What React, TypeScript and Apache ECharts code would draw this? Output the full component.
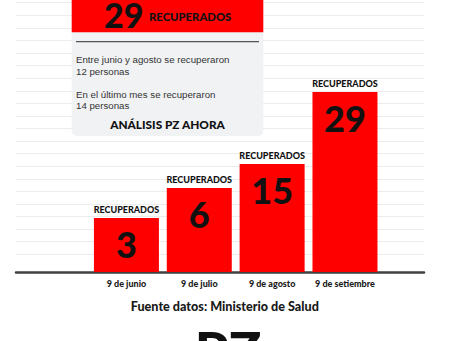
import React, { useEffect, useRef } from "react";
import * as echarts from "echarts";

const fechas = ["9 de junio", "9 de julio", "9 de agosto", "9 de setiembre"];
const recuperados = [3, 6, 15, 29];
// drawn (visual) bar heights as read from the infographic, not proportional to the values
const alturaBarra = [54, 84, 108, 180];
const etiquetaBarra = "RECUPERADOS";
const totalRecuperados = 29;
const notas = [
  "Entre junio y agosto se recuperaron",
  "12 personas",
  "En el último mes se recuperaron",
  "14 personas",
];
const firma = "ANÁLISIS PZ AHORA";
const fuente = "Fuente datos: Ministerio de Salud";
const logo = "PZ";
const lineasFondo = 20;

const HEAVY = "Lato, 'Open Sans', sans-serif";
const RED = "#fe0000";

export default function App() {
  const ref = useRef<HTMLDivElement>(null);
  useEffect(() => {
    if (!ref.current) return;
    const chart = echarts.init(ref.current, null, { renderer: "svg" });
    const notaY = [59.3, 71, 94, 105.5];
    chart.setOption({
      animation: false,
      backgroundColor: "#ffffff",
      grid: [
        { left: 16, right: 30, top: 2.7, bottom: 86.7 },
        { left: 90, right: 72.6, top: 92, bottom: 69 },
      ],
      xAxis: [
        {
          gridIndex: 0,
          type: "value",
          min: 0,
          max: 1,
          offset: 17.7,
          axisLine: { show: true, onZero: false, lineStyle: { color: "#404040", width: 2.5 } },
          axisTick: { show: false },
          axisLabel: { show: false },
          splitLine: { show: false },
        },
        {
          gridIndex: 1,
          type: "category",
          data: fechas,
          axisLine: { show: false },
          axisTick: { show: false },
          axisLabel: {
            interval: 0,
            hideOverlap: false,
            margin: 7,
            fontSize: 9,
            fontWeight: 900,
            color: "#1a1a1a",
            fontFamily: HEAVY,
          },
        },
      ],
      yAxis: [
        {
          gridIndex: 0,
          type: "value",
          min: 0,
          max: lineasFondo,
          interval: 1,
          axisLine: { show: false },
          axisTick: { show: false },
          axisLabel: { show: false },
          splitLine: { show: true, lineStyle: { color: "#ececec", width: 1 } },
        },
        {
          gridIndex: 1,
          type: "value",
          min: 0,
          max: 180,
          show: false,
          splitLine: { show: false },
        },
      ],
      series: [
        {
          type: "bar",
          xAxisIndex: 1,
          yAxisIndex: 1,
          data: alturaBarra,
          barWidth: 65,
          barGap: "-100%",
          itemStyle: { color: RED },
          label: {
            show: true,
            position: "insideTop",
            distance: 7,
            formatter: (p: any) => String(recuperados[p.dataIndex]),
            fontSize: 36,
            lineHeight: 38,
            fontWeight: 900,
            color: "#111",
            fontFamily: HEAVY,
          },
          z: 3,
        },
        {
          type: "bar",
          xAxisIndex: 1,
          yAxisIndex: 1,
          data: alturaBarra,
          barWidth: 65,
          barGap: "-100%",
          itemStyle: { color: "rgba(0,0,0,0)" },
          label: {
            show: true,
            position: "top",
            distance: 4,
            formatter: etiquetaBarra,
            fontSize: 9,
            fontWeight: 900,
            color: "#111",
            fontFamily: HEAVY,
          },
          z: 4,
        },
      ],
      graphic: [
        {
          type: "rect",
          z: 10,
          shape: { x: 71.7, y: -10, width: 191.6, height: 146, r: [0, 0, 5, 5] },
          style: { fill: "#f1f2f4" },
        },
        {
          type: "rect",
          z: 11,
          shape: { x: 71.7, y: -10, width: 191.6, height: 42.3 },
          style: { fill: RED },
        },
        {
          type: "text",
          z: 12,
          x: 104,
          y: 14,
          style: {
            text: String(totalRecuperados),
            fontSize: 34,
            fontWeight: 900,
            fontFamily: HEAVY,
            fill: "#111",
            verticalAlign: "middle",
            align: "left",
          },
        },
        {
          type: "text",
          z: 12,
          x: 149,
          y: 16.5,
          style: {
            text: etiquetaBarra,
            fontSize: 11.3,
            fontWeight: 900,
            fontFamily: HEAVY,
            fill: "#111",
            verticalAlign: "middle",
            align: "left",
          },
        },
        {
          type: "line",
          z: 12,
          shape: { x1: 76, y1: 41.7, x2: 259, y2: 41.7 },
          style: { stroke: "#555", lineWidth: 1.2 },
        },
        ...notas.map((t, i) => ({
          type: "text",
          z: 12,
          x: 76,
          y: notaY[i],
          style: {
            text: t,
            fontSize: 9.7,
            fontFamily: "'Liberation Sans', Arial, sans-serif",
            fill: "#333",
            verticalAlign: "middle",
            align: "left",
          },
        })),
        {
          type: "text",
          z: 12,
          x: 167.5,
          y: 124,
          style: {
            text: firma,
            fontSize: 11.8,
            fontWeight: 900,
            fontFamily: HEAVY,
            fill: "#111",
            verticalAlign: "middle",
            align: "center",
          },
        },
        {
          type: "text",
          z: 12,
          x: 224.8,
          y: 306.7,
          style: {
            text: fuente,
            fontSize: 12.6,
            fontWeight: 900,
            fontFamily: HEAVY,
            fill: "#1a1a1a",
            verticalAlign: "middle",
            align: "center",
          },
        },
        {
          type: "text",
          z: 12,
          x: 228,
          y: 350,
          style: {
            text: logo,
            fontSize: 54,
            fontWeight: 900,
            fontFamily: HEAVY,
            fill: "#111",
            verticalAlign: "middle",
            align: "center",
          },
        },
      ],
    });
    return () => chart.dispose();
  }, []);
  return (
    <div
      ref={ref}
      style={{ width: 454, height: 341, position: "absolute", left: 0, top: 0 }}
    />
  );
}
